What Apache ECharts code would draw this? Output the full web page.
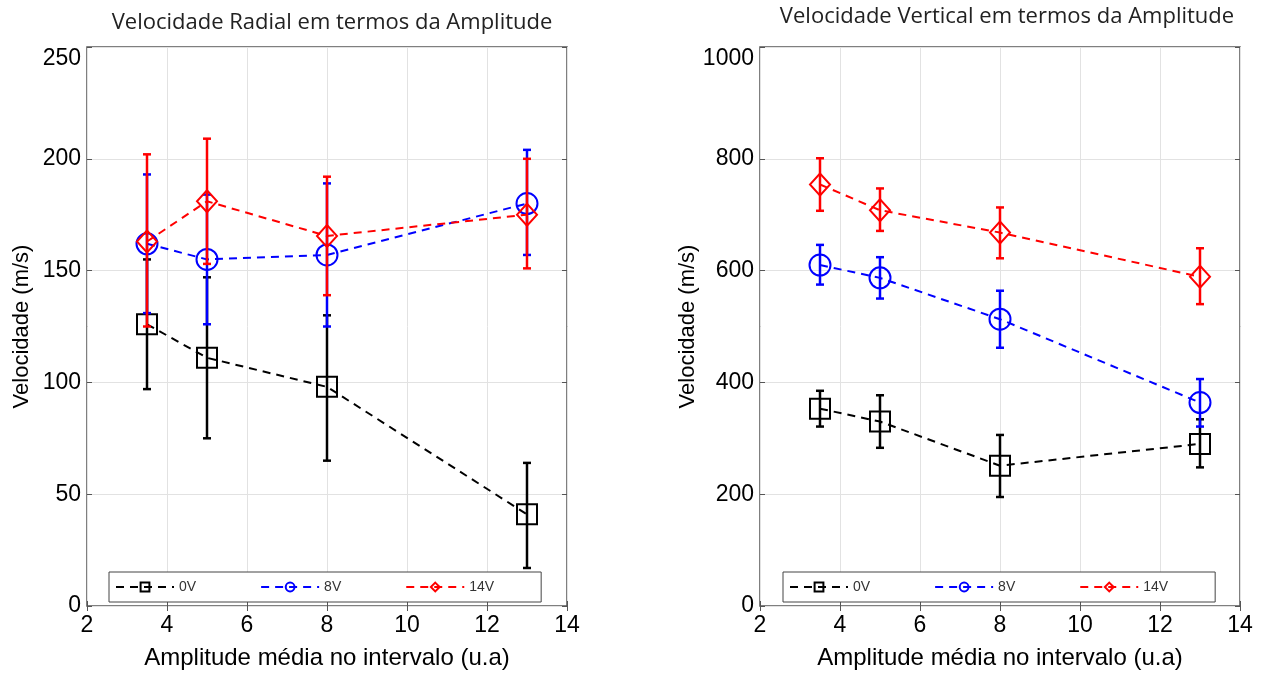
<!DOCTYPE html>
<html>
<head>
<meta charset="utf-8">
<script src="https://cdn.jsdelivr.net/npm/echarts@6/dist/echarts.min.js"></script>
<style>
html,body{margin:0;padding:0;background:#fff;}
#c{width:1264px;height:675px;}
</style>
</head>
<body>
<div id="c"></div>
<script>
// ---- data ----
const amplitudes = [3.5, 5, 8, 13];
const seriesNames = ['0V', '8V', '14V'];
const xTicks = [2, 4, 6, 8, 10, 12, 14];

// Radial velocity (left)
const radial0V      = [126, 111, 98, 41];
const radial0VLow   = [97, 75, 65, 17];
const radial0VHigh  = [155, 147, 130, 64];
const radial8V      = [162, 155, 157, 180];
const radial8VLow   = [131, 126, 125, 157];
const radial8VHigh  = [193, 184, 189, 204];
const radial14V     = [163, 181, 165.5, 175];
const radial14VLow  = [125, 153, 139, 151];
const radial14VHigh = [202, 209, 192, 200];

// Vertical velocity (right)
const vert0V      = [353, 330, 251, 290];
const vert0VLow   = [321, 283, 195, 248];
const vert0VHigh  = [385, 377, 306, 334];
const vert8V      = [610, 587, 513, 364];
const vert8VLow   = [575, 550, 462, 321];
const vert8VHigh  = [646, 624, 564, 406];
const vert14V     = [754, 708, 668, 589];
const vert14VLow  = [707, 671, 622, 540];
const vert14VHigh = [801, 747, 713, 640];

const titles = ['Velocidade Radial em termos da Amplitude', 'Velocidade Vertical em termos da Amplitude'];
const xName = 'Amplitude média no intervalo (u.a)';
const yName = 'Velocidade (m/s)';

// ---- styles ----
const colors = ['#000000', '#0000ff', '#ff0000'];
const symbols = ['rect', 'circle', 'diamond'];
const symbolSizes = [20, 21, [20, 22]];

const chart = echarts.init(document.getElementById('c'));

function pairs(xs, ys) { return xs.map((x, i) => [x, ys[i]]); }
function errData(xs, lo, hi) { return xs.map((x, i) => [x, lo[i], hi[i]]); }

function errorBarRender(color) {
  return function (params, api) {
    const x = api.value(0);
    const p1 = api.coord([x, api.value(1)]);
    const p2 = api.coord([x, api.value(2)]);
    const cap = 4;
    const st = { stroke: color, lineWidth: 2.5 };
    return {
      type: 'group',
      children: [
        { type: 'line', shape: { x1: p1[0], y1: p1[1], x2: p2[0], y2: p2[1] }, style: st },
        { type: 'line', shape: { x1: p1[0] - cap, y1: p1[1], x2: p1[0] + cap, y2: p1[1] }, style: st },
        { type: 'line', shape: { x1: p2[0] - cap, y1: p2[1], x2: p2[0] + cap, y2: p2[1] }, style: st }
      ]
    };
  };
}

const panels = [
  { means: [radial0V, radial8V, radial14V], lows: [radial0VLow, radial8VLow, radial14VLow], highs: [radial0VHigh, radial8VHigh, radial14VHigh], ymax: 250, yint: 50 },
  { means: [vert0V, vert8V, vert14V], lows: [vert0VLow, vert8VLow, vert14VLow], highs: [vert0VHigh, vert8VHigh, vert14VHigh], ymax: 1000, yint: 200 }
];
const gridLefts = [87, 760];
const titleCenters = [327, 1002];
const titleTops = [7, 1];
const legendLefts = [109, 783];

const tickFont = { fontFamily: 'Liberation Sans, Arial, sans-serif', fontSize: 23, color: '#000' };

const grids = [], xAxes = [], yAxes = [], series = [], legends = [], titleOpts = [];

panels.forEach((p, g) => {
  grids.push({ left: gridLefts[g], top: 47, width: 480, height: 559, show: true, borderColor: '#555', borderWidth: 1.5, backgroundColor: 'transparent' });
  titleOpts.push({
    text: titles[g], left: titleCenters[g], top: titleTops[g], textAlign: 'center',
    textStyle: { fontFamily: 'Open Sans, sans-serif', fontSize: 22, fontWeight: 'normal', color: '#222' }
  });
  // bottom x axis
  xAxes.push({
    gridIndex: g, type: 'value', min: 2, max: 14, interval: 2, position: 'bottom',
    name: xName, nameLocation: 'middle', nameGap: 40,
    nameTextStyle: { fontFamily: 'Liberation Sans, Arial, sans-serif', fontSize: 24, color: '#000' },
    axisLine: { show: false }, axisTick: { show: true, inside: true, length: 5, lineStyle: { color: '#555' } },
    axisLabel: Object.assign({ margin: 8, formatter: v => String(v) }, tickFont),
    splitLine: { show: true, lineStyle: { color: '#e2e2e2', width: 1 } }
  });
  // top x axis (ticks only)
  xAxes.push({
    gridIndex: g, type: 'value', min: 2, max: 14, interval: 2, position: 'top',
    axisLine: { show: false }, axisTick: { show: true, inside: true, length: 5, lineStyle: { color: '#555' } },
    axisLabel: { show: false }, splitLine: { show: false }
  });
  yAxes.push({
    gridIndex: g, type: 'value', min: 0, max: p.ymax, interval: p.yint, position: 'left',
    name: yName, nameLocation: 'middle', nameGap: 54, nameRotate: 90,
    nameTextStyle: { fontFamily: 'Liberation Sans, Arial, sans-serif', fontSize: 22, color: '#000' },
    axisLine: { show: false }, axisTick: { show: true, inside: true, length: 5, lineStyle: { color: '#555' } },
    axisLabel: Object.assign({ margin: 6, verticalAlignMaxLabel: 'top', formatter: v => String(v) }, tickFont),
    splitLine: { show: true, lineStyle: { color: '#e2e2e2', width: 1 } }
  });
  yAxes.push({
    gridIndex: g, type: 'value', min: 0, max: p.ymax, interval: p.yint, position: 'right',
    axisLine: { show: false }, axisTick: { show: true, inside: true, length: 5, lineStyle: { color: '#555' } },
    axisLabel: { show: false }, splitLine: { show: false }
  });

  for (let s = 0; s < 3; s++) {
    series.push({
      name: seriesNames[s] + ' err ' + g, type: 'custom',
      xAxisIndex: g * 2, yAxisIndex: g * 2,
      renderItem: errorBarRender(colors[s]),
      encode: { x: 0, y: [1, 2] },
      data: errData(amplitudes, p.lows[s], p.highs[s]),
      z: 2 + s * 2, silent: true
    });
    series.push({
      name: seriesNames[s], type: 'line',
      xAxisIndex: g * 2, yAxisIndex: g * 2,
      data: pairs(amplitudes, p.means[s]),
      symbol: symbols[s], symbolSize: symbolSizes[s],
      lineStyle: { color: colors[s], width: 2, type: [8, 6] },
      itemStyle: { color: 'rgba(0,0,0,0)', borderColor: colors[s], borderWidth: 2 },
      emphasis: { disabled: true },
      z: 3 + s * 2, animation: false
    });
  }

  legends.push({
    data: seriesNames, left: legendLefts[g], top: 572,
    orient: 'horizontal', itemWidth: 58, itemHeight: 11, itemGap: 64,
    padding: [8, 47, 8, 6], borderColor: '#444', borderWidth: 1, backgroundColor: '#fff',
    textStyle: { fontFamily: 'Liberation Sans, Arial, sans-serif', fontSize: 14, color: '#333' },
    selectedMode: false
  });
});

chart.setOption({
  animation: false,
  backgroundColor: '#ffffff',
  title: titleOpts,
  grid: grids,
  xAxis: xAxes,
  yAxis: yAxes,
  legend: legends,
  series: series
});
</script>
</body>
</html>
